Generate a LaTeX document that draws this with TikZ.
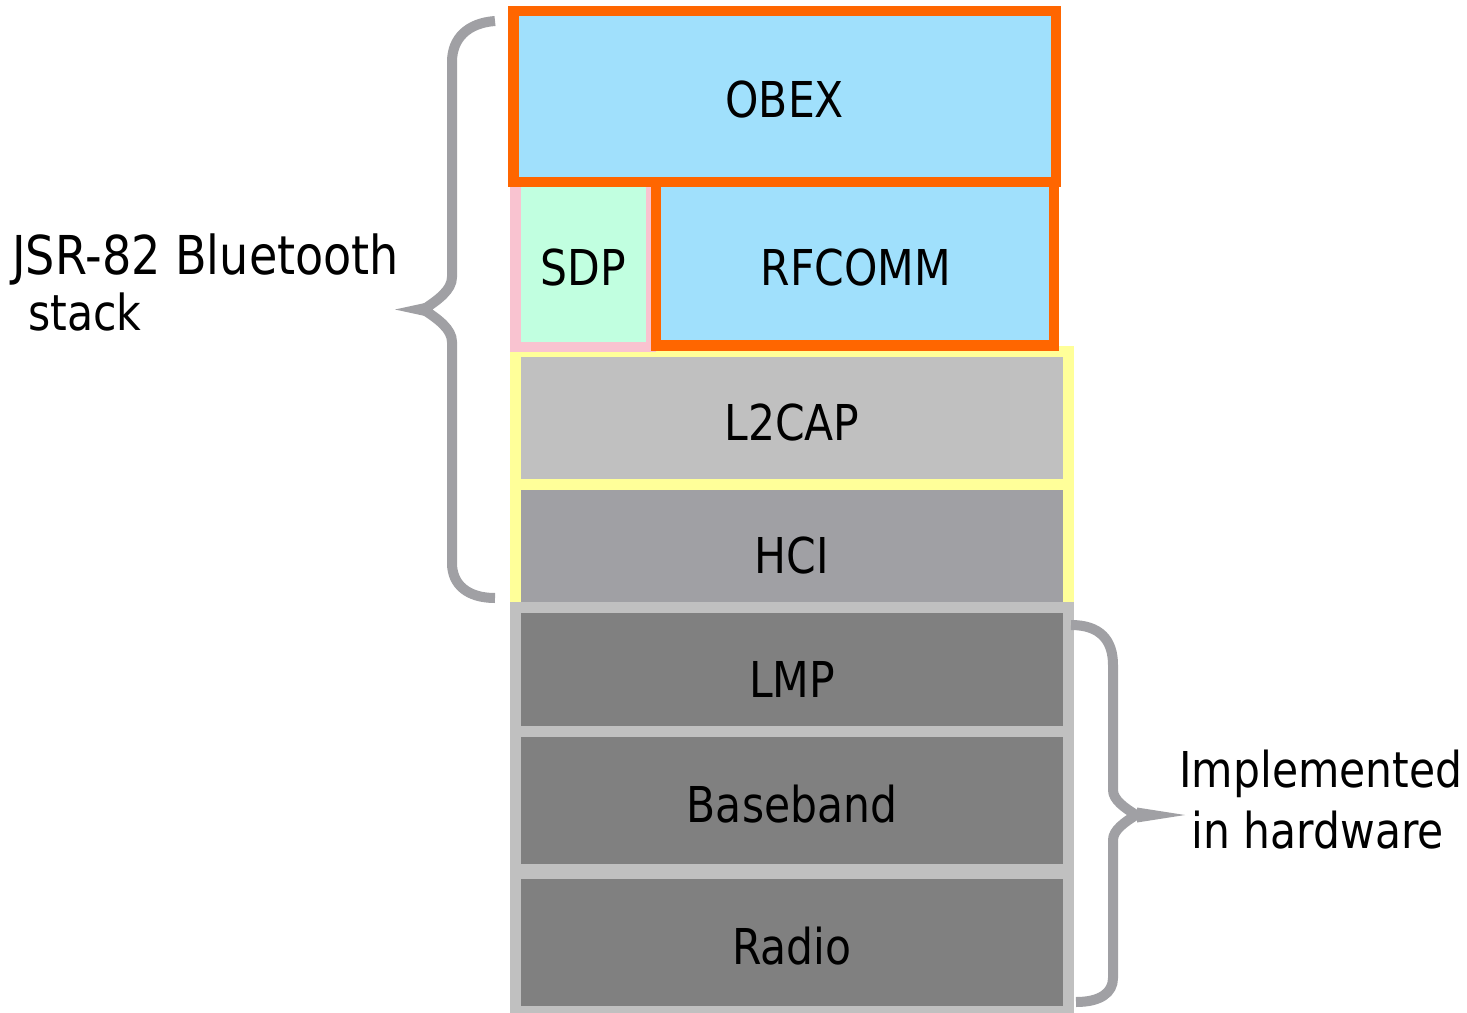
\documentclass[tikz,border=0pt]{standalone}
\usepackage{fontspec}
\setmainfont{DejaVu Sans}[FakeStretch=0.86]
\definecolor{obexblue}{RGB}{160,224,252}
\definecolor{orangeline}{RGB}{255,102,0}
\definecolor{sdppink}{RGB}{249,195,208}
\definecolor{sdpmint}{RGB}{193,255,224}
\definecolor{yellowline}{RGB}{255,255,153}
\definecolor{lgray}{RGB}{192,192,192}
\definecolor{mgray}{RGB}{160,160,164}
\definecolor{dgray}{RGB}{128,128,128}
\newcommand\lblfont{\fontsize{24.7pt}{30pt}\selectfont}
\newcommand\sidefontA{\fontsize{26.8pt}{30pt}\selectfont}
\newcommand\sidefontB{\fontsize{24.8pt}{30pt}\selectfont}
\tikzset{
  layerbox/.style={rectangle, inner sep=0pt, outer sep=0pt, line width=5.25pt},
  lbl/.style={anchor=base, inner sep=0pt, font=\lblfont, text=black},
  sidelbl/.style={anchor=base west, inner sep=0pt, text=black},
  bracestroke/.style={draw=mgray, line width=5pt, line join=miter, line cap=butt},
  bracetip/.style={fill=mgray, draw=none}
}
\begin{document}
\begin{tikzpicture}[x=0.5pt,y=-0.5pt]
\useasboundingbox (0,0) rectangle (1467,1012);
\fill[white] (0,0) rectangle (1467,1012);
% lower layers
\node[layerbox, draw=yellowline, fill=lgray, minimum width=276.5pt, minimum height=66.5pt] (l2cap) at (792,418) {};
\node[layerbox, draw=yellowline, fill=mgray, minimum width=276.5pt, minimum height=61.5pt] (hci) at (792,546) {};
\node[layerbox, draw=lgray, fill=dgray, minimum width=276.5pt, minimum height=62pt] (lmp) at (792,669.5) {};
\node[layerbox, draw=lgray, fill=dgray, minimum width=276.5pt, minimum height=69pt] (baseband) at (792,800.5) {};
\node[layerbox, draw=lgray, fill=dgray, minimum width=276.5pt, minimum height=69pt] (radio) at (792,942.5) {};
% upper layers
\node[layerbox, draw=sdppink, fill=sdpmint, minimum width=67.75pt, minimum height=82.5pt] (sdp) at (583.25,264.5) {};
\node[layerbox, draw=orangeline, fill=obexblue, minimum width=199pt, minimum height=81.75pt] (rfcomm) at (855,263.75) {};
\node[layerbox, draw=orangeline, fill=obexblue, minimum width=271.25pt, minimum height=85.5pt] (obex) at (784.75,96.5) {};
% labels
\node[lbl] (obexT) at (784.75,117) {OBEX};
\node[lbl] (sdpT) at (583.25,285) {SDP};
\node[lbl] (rfcommT) at (856,285) {RFCOMM};
\node[lbl] (l2capT) at (792,440) {L2CAP};
\node[lbl] (hciT) at (792,573) {HCI};
\node[lbl] (lmpT) at (792,697) {LMP};
\node[lbl] (basebandT) at (792,822) {Baseband};
\node[lbl] (radioT) at (792,964) {Radio};
\node[sidelbl, font=\sidefontA] (jsrA) at (12,274) {JSR-82 Bluetooth};
\node[sidelbl, font=\sidefontB] (jsrB) at (28,330) {stack};
\node[sidelbl, font=\lblfont] (hwA) at (1179,787) {Implemented};
\node[sidelbl, font=\lblfont] (hwB) at (1191,848) {in hardware};
% left brace
\draw[bracestroke] (495,21) .. controls (468,23) and (452,38) .. (452,62)
  -- (452,277) .. controls (452,290) and (438,300) .. (423.5,309.5)
  .. controls (438,319) and (452,329) .. (452,342)
  -- (452,563) .. controls (452,585) and (468,598) .. (495,598);
\fill[bracetip] (395,309.5) -- (425,303) -- (425,316) -- cycle;
% right brace
\draw[bracestroke] (1071,625) .. controls (1100,625) and (1113,640) .. (1113,665)
  -- (1113,790) .. controls (1113,800) and (1125,808) .. (1136,815)
  .. controls (1125,822) and (1113,830) .. (1113,840)
  -- (1113,978) .. controls (1113,993) and (1100,1002) .. (1076,1002);
\fill[bracetip] (1185,815) -- (1137,807.5) -- (1137,822.5) -- cycle;
\end{tikzpicture}
\end{document}
